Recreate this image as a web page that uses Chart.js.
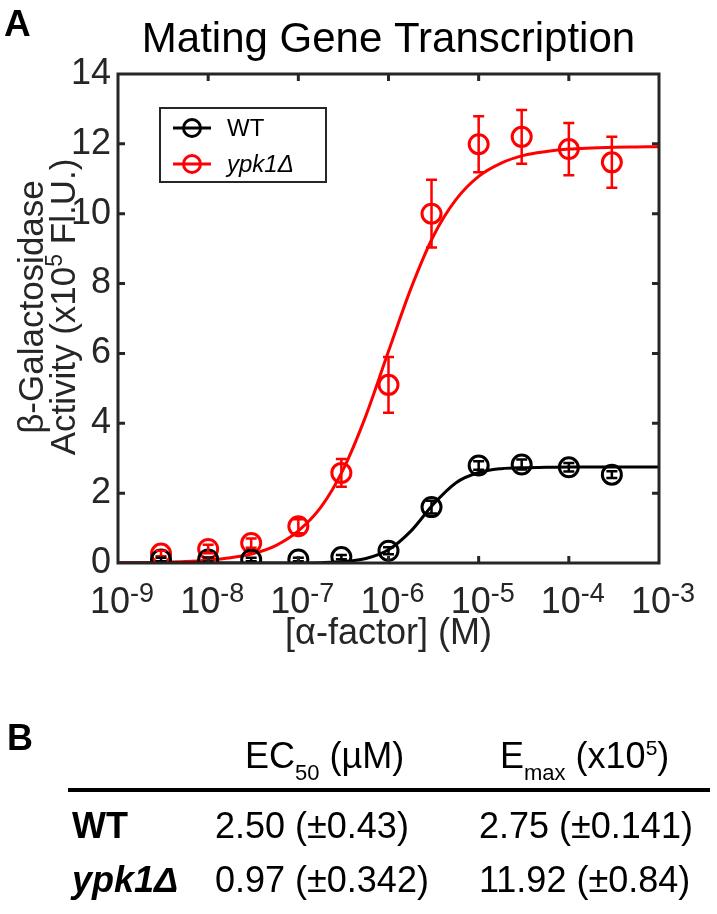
<!DOCTYPE html>
<html>
<head>
<meta charset="utf-8">
<script src="https://cdn.jsdelivr.net/npm/chart.js@4.4.1/dist/chart.umd.min.js"></script>
<style>
html,body{margin:0;padding:0;background:#fff;width:717px;height:914px;overflow:hidden}
#wrap{position:relative;width:717px;height:914px}
#c{position:absolute;left:0;top:0}
#tbl{position:absolute;left:0;top:0}
</style>
</head>
<body>
<div id="wrap">
<canvas id="c" width="717" height="700"></canvas>
<svg id="tbl" width="717" height="914" xmlns="http://www.w3.org/2000/svg"></svg>
</div>
<script>
// ---------------- data ----------------
const concentrations = [3e-9, 1e-8, 3e-8, 1e-7, 3e-7, 1e-6, 3e-6, 1e-5, 3e-5, 1e-4, 3e-4];
const wtMean  = [0.10, 0.10, 0.10, 0.10, 0.17, 0.35, 1.60, 2.79, 2.82, 2.74, 2.53];
const wtErr   = [0.05, 0.06, 0.05, 0.05, 0.06, 0.10, 0.18, 0.12, 0.14, 0.12, 0.10];
const ypkMean = [0.27, 0.40, 0.57, 1.05, 2.58, 5.10, 10.00, 11.99, 12.20, 11.85, 11.47];
const ypkErr  = [0.08, 0.12, 0.13, 0.20, 0.40, 0.80, 0.97, 0.80, 0.77, 0.75, 0.73];

const fitX = [1e-9, 1.78e-9, 3.16e-9, 5.62e-9, 1e-8, 1.78e-8, 3.16e-8, 5.62e-8,
              1e-7, 1.78e-7, 3.16e-7, 5.62e-7, 1e-6, 1.78e-6, 3.16e-6, 5.62e-6,
              1e-5, 1.78e-5, 3.16e-5, 5.62e-5, 1e-4, 1.78e-4, 3.16e-4, 5.62e-4, 1e-3];
const wtFit  = [0.00, 0.00, 0.00, 0.00, 0.00, 0.00, 0.00, 0.00,
                0.00, 0.01, 0.04, 0.13, 0.38, 0.92, 1.69, 2.30,
                2.59, 2.70, 2.73, 2.74, 2.75, 2.75, 2.75, 2.75, 2.75];
const ypkFit = [0.01, 0.01, 0.02, 0.04, 0.08, 0.15, 0.27, 0.50,
                0.92, 1.60, 2.69, 4.22, 6.06, 7.87, 9.37, 10.41,
                11.07, 11.45, 11.67, 11.78, 11.85, 11.88, 11.90, 11.91, 11.92];

const seriesLabels = ['WT', 'ypk1Δ'];
const xTickExponents = [-9, -8, -7, -6, -5, -4, -3];
const yMin = 0, yMax = 14, yStep = 2;

const tableHeaders = ['EC', '50', ' (µM)', 'E', 'max', ' (x10', '5', ')'];
const tableRowNames = ['WT', 'ypk1Δ'];
const tableEC50 = ['2.50 (±0.43)', '0.97 (±0.342)'];
const tableEmax = ['2.75 (±0.141)', '11.92 (±0.84)'];

// ---------------- style ----------------
const FONT = '"Liberation Sans", Arial, Helvetica, sans-serif';
const AXIS = '#262626';
const BLACK = '#000000';
const RED = '#ff0000';

function runsWidth(ctx, runs) {
  let w = 0;
  runs.forEach(r => { ctx.font = r.font; w += ctx.measureText(r.text).width; });
  return w;
}
function drawRuns(ctx, runs, x, y) {
  runs.forEach(r => {
    ctx.font = r.font;
    ctx.fillText(r.text, x, y + (r.dy || 0));
    x += ctx.measureText(r.text).width;
  });
}

const decor = {
  id: 'decor',
  afterDatasetsDraw(chart) {
    const {ctx, chartArea: a, scales: {x, y}} = chart;
    ctx.save();
    ctx.beginPath();
    ctx.rect(a.left, a.top, a.right - a.left, a.bottom - a.top);
    ctx.clip();
    const sets = [
      {mean: ypkMean, err: ypkErr, color: RED},
      {mean: wtMean, err: wtErr, color: BLACK}
    ];
    sets.forEach(s => {
      ctx.strokeStyle = s.color;
      ctx.lineWidth = 2.5;
      concentrations.forEach((c, i) => {
        const px = x.getPixelForValue(c);
        const y1 = y.getPixelForValue(s.mean[i] - s.err[i]);
        const y2 = y.getPixelForValue(s.mean[i] + s.err[i]);
        ctx.beginPath();
        ctx.moveTo(px, y1); ctx.lineTo(px, y2);
        ctx.moveTo(px - 5.5, y1); ctx.lineTo(px + 5.5, y1);
        ctx.moveTo(px - 5.5, y2); ctx.lineTo(px + 5.5, y2);
        ctx.stroke();
      });
    });
    ctx.restore();
  },
  afterDraw(chart) {
    const {ctx, chartArea: a, scales: {x, y}} = chart;
    ctx.save();
    // frame
    ctx.strokeStyle = AXIS;
    ctx.lineWidth = 3;
    ctx.strokeRect(a.left, a.top, a.right - a.left, a.bottom - a.top);
    // inward ticks
    const tl = 7;
    ctx.beginPath();
    y.ticks.forEach(t => {
      const py = y.getPixelForValue(t.value);
      if (t.value === yMin || t.value === yMax) return;
      ctx.moveTo(a.left, py); ctx.lineTo(a.left + tl, py);
      ctx.moveTo(a.right, py); ctx.lineTo(a.right - tl, py);
    });
    xTickExponents.forEach((e, i) => {
      if (i === 0 || i === xTickExponents.length - 1) return;
      const px = x.getPixelForValue(Math.pow(10, e));
      ctx.moveTo(px, a.bottom); ctx.lineTo(px, a.bottom - tl);
      ctx.moveTo(px, a.top); ctx.lineTo(px, a.top + tl);
    });
    ctx.stroke();

    // x tick labels with superscript exponents
    ctx.fillStyle = AXIS;
    ctx.textAlign = 'left';
    ctx.textBaseline = 'alphabetic';
    xTickExponents.forEach(e => {
      const px = x.getPixelForValue(Math.pow(10, e));
      const runs = [
        {text: '10', font: `36px ${FONT}`},
        {text: '-' + Math.abs(e), font: `27px ${FONT}`, dy: -11}
      ];
      const w = runsWidth(ctx, runs);
      drawRuns(ctx, runs, px - w / 2 + 4, a.bottom + 50);
    });

    // x axis title
    const cx = (a.left + a.right) / 2;
    ctx.textAlign = 'center';
    ctx.font = `36px ${FONT}`;
    ctx.fillText('[α-factor] (M)', cx, a.bottom + 81);

    // chart title
    ctx.fillStyle = BLACK;
    ctx.font = `42px ${FONT}`;
    ctx.fillText('Mating Gene Transcription', cx, 52);

    // panel letter
    ctx.textAlign = 'left';
    ctx.font = `bold 37px ${FONT}`;
    ctx.fillText('A', 4, 36);

    // y axis title (two rotated lines)
    ctx.fillStyle = AXIS;
    const cy = 307;
    ctx.save();
    ctx.translate(43, cy);
    ctx.rotate(-Math.PI / 2);
    ctx.textAlign = 'center';
    ctx.font = `35px ${FONT}`;
    ctx.fillText('β-Galactosidase', 0, 0);
    ctx.restore();
    ctx.save();
    ctx.translate(75, cy);
    ctx.rotate(-Math.PI / 2);
    ctx.textAlign = 'left';
    const r2 = [
      {text: 'Activity (x10', font: `35px ${FONT}`},
      {text: '5', font: `23px ${FONT}`, dy: -13},
      {text: ' Fl.U.)', font: `35px ${FONT}`}
    ];
    const w2 = runsWidth(ctx, r2);
    drawRuns(ctx, r2, -w2 / 2, 0);
    ctx.restore();

    // legend
    const lx = a.left + 42, ly = a.top + 34, lw = 166, lh = 74;
    ctx.fillStyle = '#ffffff';
    ctx.fillRect(lx, ly, lw, lh);
    ctx.strokeStyle = AXIS;
    ctx.lineWidth = 2;
    ctx.strokeRect(lx, ly, lw, lh);
    [0, 1].forEach(k => {
      const ds = chart.data.datasets[k];
      const yy = ly + 20 + k * 36;
      ctx.strokeStyle = ds.borderColor;
      ctx.lineWidth = 3;
      ctx.beginPath();
      ctx.moveTo(lx + 13, yy); ctx.lineTo(lx + 51, yy);
      ctx.stroke();
      ctx.beginPath();
      ctx.arc(lx + 32, yy, 8.5, 0, Math.PI * 2);
      ctx.stroke();
      ctx.fillStyle = BLACK;
      ctx.textAlign = 'left';
      ctx.textBaseline = 'middle';
      ctx.font = (k === 1 ? 'italic ' : '') + `24px ${FONT}`;
      ctx.fillText(ds.label, lx + 67, yy + 1);
    });
    ctx.restore();
  }
};

const pts = (xs, ys) => xs.map((v, i) => ({x: v, y: ys[i]}));

new Chart(document.getElementById('c'), {
  type: 'line',
  data: {
    datasets: [
      {label: seriesLabels[0], data: pts(concentrations, wtMean), showLine: false,
       borderColor: BLACK, backgroundColor: 'rgba(0,0,0,0)', pointBackgroundColor: 'rgba(0,0,0,0)',
       pointRadius: 9.5, pointBorderWidth: 3, pointStyle: 'circle'},
      {label: seriesLabels[1], data: pts(concentrations, ypkMean), showLine: false,
       borderColor: RED, backgroundColor: 'rgba(0,0,0,0)', pointBackgroundColor: 'rgba(0,0,0,0)',
       pointRadius: 9.5, pointBorderWidth: 3, pointStyle: 'circle'},
      {label: 'WT fit', data: pts(fitX, wtFit), borderColor: BLACK, borderWidth: 3,
       pointRadius: 0, fill: false, cubicInterpolationMode: 'monotone'},
      {label: 'ypk1Δ fit', data: pts(fitX, ypkFit), borderColor: RED, borderWidth: 3,
       pointRadius: 0, fill: false, cubicInterpolationMode: 'monotone'}
    ]
  },
  options: {
    responsive: false,
    animation: false,
    devicePixelRatio: 1,
    layout: {padding: {left: 0, top: 74, right: 58, bottom: 0}},
    plugins: {legend: {display: false}, tooltip: {enabled: false}, title: {display: false}},
    scales: {
      x: {
        type: 'logarithmic', min: 1e-9, max: 1e-3,
        grid: {display: false}, border: {display: false},
        ticks: {display: false},
        afterFit(s) { s.height = 137; }
      },
      y: {
        type: 'linear', min: yMin, max: yMax,
        grid: {display: false, drawTicks: false}, border: {display: false},
        ticks: {stepSize: yStep, padding: 7, color: AXIS, font: {family: FONT, size: 36}},
        afterFit(s) { s.width = 118; }
      }
    }
  },
  plugins: [decor]
});

// ---------------- table (panel B) ----------------
(function buildTable() {
  const NS = 'http://www.w3.org/2000/svg';
  const svg = document.getElementById('tbl');
  const fam = 'Liberation Sans, Arial, Helvetica, sans-serif';
  function text(x, y, parts, attrs) {
    const t = document.createElementNS(NS, 'text');
    t.setAttribute('x', x); t.setAttribute('y', y);
    t.setAttribute('font-family', fam);
    t.setAttribute('font-size', 36);
    t.setAttribute('fill', '#000');
    t.setAttributeNS('http://www.w3.org/XML/1998/namespace', 'xml:space', 'preserve');
    t.style.whiteSpace = 'pre';
    Object.entries(attrs || {}).forEach(([k, v]) => t.setAttribute(k, v));
    parts.forEach(p => {
      const s = document.createElementNS(NS, 'tspan');
      s.textContent = p.t;
      if (p.size) s.setAttribute('font-size', p.size);
      if (p.dy) s.setAttribute('dy', p.dy);
      s.style.whiteSpace = 'pre';
      t.appendChild(s);
    });
    svg.appendChild(t);
  }
  text(7, 750, [{t: 'B'}], {'font-weight': 'bold'});
  text(245, 768, [{t: tableHeaders[0]}, {t: tableHeaders[1], size: 22, dy: 12}, {t: tableHeaders[2], size: 36, dy: -12}]);
  text(500, 768, [{t: tableHeaders[3]}, {t: tableHeaders[4], size: 22, dy: 12}, {t: tableHeaders[5], size: 36, dy: -12},
                  {t: tableHeaders[6], size: 21, dy: -13}, {t: tableHeaders[7], size: 36, dy: 13}]);
  const rule = document.createElementNS(NS, 'rect');
  rule.setAttribute('x', 68); rule.setAttribute('y', 788);
  rule.setAttribute('width', 642); rule.setAttribute('height', 4);
  rule.setAttribute('fill', '#000');
  svg.appendChild(rule);
  const rowY = [838, 892];
  tableRowNames.forEach((n, i) => {
    text(72, rowY[i], [{t: n}], i === 1 ? {'font-weight': 'bold', 'font-style': 'italic'} : {'font-weight': 'bold'});
    text(215, rowY[i], [{t: tableEC50[i]}]);
    text(479, rowY[i], [{t: tableEmax[i]}]);
  });
})();
</script>
</body>
</html>
